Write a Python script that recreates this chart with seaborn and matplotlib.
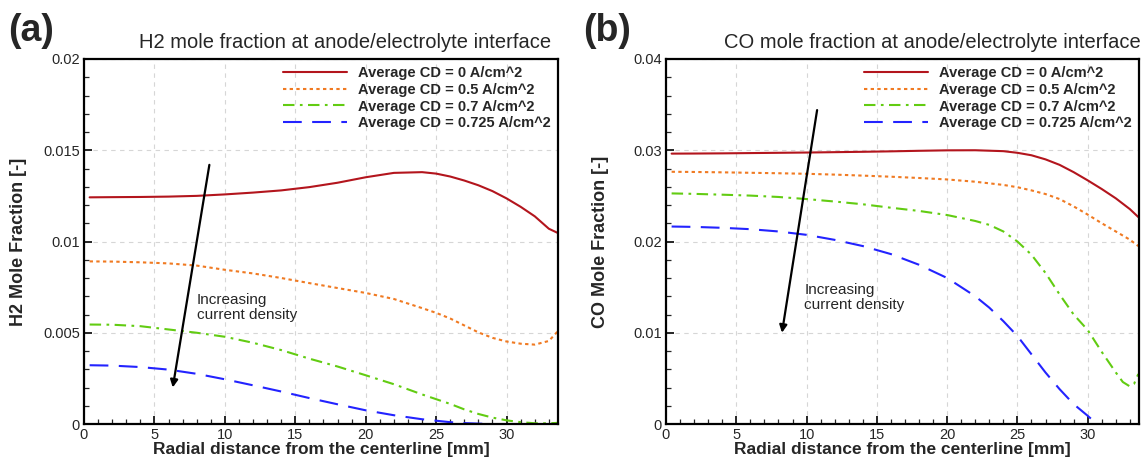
import numpy as np
import pandas as pd
import matplotlib
matplotlib.use("Agg")
import matplotlib.pyplot as plt
from matplotlib.ticker import MultipleLocator, FormatStrFormatter
import seaborn as sns

# ---------------- data ----------------
cd_labels = ["Average CD = 0 A/cm^2", "Average CD = 0.5 A/cm^2",
             "Average CD = 0.7 A/cm^2", "Average CD = 0.725 A/cm^2"]

# radial positions [mm]
r_main = [0.4, 2, 4, 6, 8, 10, 12, 14, 16, 18, 20, 22, 24, 25, 26, 27, 28,
          29, 30, 31, 32, 33, 33.6]

# H2 mole fraction at anode/electrolyte interface
h2_cd0 = [0.01242, 0.01243, 0.01244, 0.01246, 0.01250, 0.01258, 0.01268,
          0.01280, 0.01298, 0.01322, 0.01352, 0.01376, 0.01380, 0.01372,
          0.01356, 0.01334, 0.01308, 0.01276, 0.01236, 0.01190, 0.01138,
          0.01070, 0.01048]
h2_cd05 = [0.00891, 0.00890, 0.00886, 0.00880, 0.00868, 0.00845, 0.00825,
           0.00800, 0.00772, 0.00745, 0.00718, 0.00685, 0.00635, 0.00609,
           0.00578, 0.00540, 0.00502, 0.00472, 0.00452, 0.00440, 0.00435,
           0.00455, 0.00505]
h2_cd07 = [0.00545, 0.00544, 0.00536, 0.00518, 0.00500, 0.00478, 0.00445,
           0.00405, 0.00358, 0.00315, 0.00267, 0.00218, 0.00162, 0.00136,
           0.00110, 0.00080, 0.00055, 0.00035, 0.00020, 0.00010, 0.00004,
           0.00004, 0.00006]
r_h2_cd0725 = [0.4, 2, 4, 6, 8, 10, 12, 14, 16, 18, 20, 22, 24, 25, 26, 27,
               28, 29]
h2_cd0725 = [0.00322, 0.00320, 0.00312, 0.00298, 0.00275, 0.00245, 0.00212,
             0.00178, 0.00142, 0.00108, 0.00075, 0.00048, 0.00026, 0.00018,
             0.00010, 0.00005, 0.00002, 0.0]

# CO mole fraction at anode/electrolyte interface
co_cd0 = [0.02963, 0.02964, 0.02966, 0.02969, 0.02972, 0.02975, 0.02979,
          0.02983, 0.02988, 0.02994, 0.02999, 0.03000, 0.02990, 0.02972,
          0.02945, 0.02900, 0.02840, 0.02760, 0.02670, 0.02575, 0.02473,
          0.02355, 0.02268]
co_cd05 = [0.02764, 0.02762, 0.02758, 0.02753, 0.02748, 0.02742, 0.02733,
           0.02722, 0.02710, 0.02696, 0.02680, 0.02655, 0.02620, 0.02595,
           0.02560, 0.02520, 0.02465, 0.02385, 0.02295, 0.02200, 0.02110,
           0.02020, 0.01950]
r_co_cd07 = [0.4, 2, 4, 6, 8, 10, 12, 14, 16, 18, 20, 22, 23, 24, 25, 26,
             27, 28, 29, 30, 31, 32, 32.5, 33, 33.3, 33.6]
co_cd07 = [0.02527, 0.02522, 0.02513, 0.02503, 0.02488, 0.02465, 0.02438,
           0.02408, 0.02370, 0.02335, 0.02290, 0.02225, 0.02182, 0.02110,
           0.02000, 0.01855, 0.01655, 0.01420, 0.01200, 0.01030, 0.00790,
           0.00565, 0.00460, 0.00412, 0.00440, 0.00548]
r_co_cd0725 = [0.4, 2, 4, 6, 8, 10, 12, 14, 16, 18, 20, 22, 23, 24, 25, 26,
               27, 28, 29, 30, 30.4, 30.8]
co_cd0725 = [0.02164, 0.02160, 0.02150, 0.02135, 0.02110, 0.02073, 0.02018,
             0.01950, 0.01862, 0.01745, 0.01600, 0.01400, 0.01275, 0.01127,
             0.00964, 0.00764, 0.00564, 0.00382, 0.00218, 0.00090, 0.00035,
             0.0]

x_ticks = [0, 5, 10, 15, 20, 25, 30]
h2_yticks = [0, 0.005, 0.01, 0.015, 0.02]
co_yticks = [0, 0.01, 0.02, 0.03, 0.04]

# ---------------- style ----------------
sns.set_style("ticks")
plt.rcParams["font.family"] = ["Liberation Sans", "DejaVu Sans"]

colors = ["#b3151d", "#f07a22", "#62cc12", "#2323ff"]
styles = ["-", (0, (1.6, 1.6)), (0, (5.5, 2.6, 1.3, 2.6)), (0, (9, 5))]

fig = plt.figure(figsize=(11.45, 4.58), dpi=100)
ax_a = fig.add_axes([84 / 1145, 1 - 424 / 458, 474 / 1145, 365 / 458])
ax_b = fig.add_axes([666 / 1145, 1 - 424 / 458, 473 / 1145, 365 / 458])

panels = [
    (ax_a, [(r_main, h2_cd0), (r_main, h2_cd05), (r_main, h2_cd07),
            (r_h2_cd0725, h2_cd0725)],
     h2_yticks, 0.001, "H2 Mole Fraction [-]"),
    (ax_b, [(r_main, co_cd0), (r_main, co_cd05), (r_co_cd07, co_cd07),
            (r_co_cd0725, co_cd0725)],
     co_yticks, 0.002, "CO Mole Fraction [-]"),
]

for ax, series, yticks, yminor, ylabel in panels:
    for (xs, ys), lab, col, ls in zip(series, cd_labels, colors, styles):
        df = pd.DataFrame({"r": xs, "y": ys})
        sns.lineplot(data=df, x="r", y="y", ax=ax, color=col, linestyle=ls,
                     linewidth=1.5, label=lab, sort=False, estimator=None)
    ax.set_xlim(0, 33.65)
    ax.set_ylim(yticks[0], yticks[-1])
    ax.set_xticks(x_ticks)
    ax.set_yticks(yticks)
    ax.xaxis.set_minor_locator(MultipleLocator(1))
    ax.yaxis.set_minor_locator(MultipleLocator(yminor))
    ax.yaxis.set_major_formatter(FormatStrFormatter("%g"))
    ax.tick_params(which="major", direction="in", length=6, width=1.4,
                   labelsize=10.5, pad=3, top=False, right=False)
    ax.tick_params(which="minor", direction="in", length=3.5, width=0.9,
                   top=False, right=False)
    for sp in ax.spines.values():
        sp.set_visible(True)
        sp.set_linewidth(1.6)
        sp.set_color("black")
    ax.grid(True, which="major", color="#d6d6d6", linestyle=(0, (4, 4)),
            linewidth=0.8)
    ax.set_axisbelow(True)
    ax.set_xlabel("Radial distance from the centerline [mm]", fontsize=12.5,
                  fontweight="bold", labelpad=0)
    ax.set_ylabel(ylabel, fontsize=13, fontweight="bold")
    ax.yaxis.set_label_coords(-57 / 474, 0.5)
    ax.legend(loc="upper right", frameon=False,
              prop={"size": 10.5, "weight": "bold"},
              handlelength=4.4, handletextpad=0.75, labelspacing=0.18,
              borderaxespad=0.0, borderpad=0.5)

# trend arrows and notes
ax_a.annotate("", xy=(6.3, 0.0020), xytext=(8.9, 0.0142),
              arrowprops=dict(arrowstyle="-|>", color="black", lw=1.6,
                              mutation_scale=11, shrinkA=0, shrinkB=0))
ax_a.text(8.0, 0.0072, "Increasing\ncurrent density", fontsize=11,
          va="top", ha="left", linespacing=1.12)
ax_b.annotate("", xy=(8.25, 0.0100), xytext=(10.75, 0.0344),
              arrowprops=dict(arrowstyle="-|>", color="black", lw=1.6,
                              mutation_scale=11, shrinkA=0, shrinkB=0))
ax_b.text(9.85, 0.0155, "Increasing\ncurrent density", fontsize=11,
          va="top", ha="left", linespacing=1.12)

# panel tags and titles
fig.text(31 / 1145, 1 - 31 / 458, "(a)", fontsize=27, fontweight="bold",
         ha="center", va="center")
fig.text(607 / 1145, 1 - 31 / 458, "(b)", fontsize=27, fontweight="bold",
         ha="center", va="center")
fig.text(139 / 1145, 1 - 42 / 458,
         "H2 mole fraction at anode/electrolyte interface", fontsize=14.5,
         ha="left", va="center")
fig.text(1141 / 1145, 1 - 42 / 458,
         "CO mole fraction at anode/electrolyte interface", fontsize=14.5,
         ha="right", va="center")

fig.savefig("out.png", dpi=100)
